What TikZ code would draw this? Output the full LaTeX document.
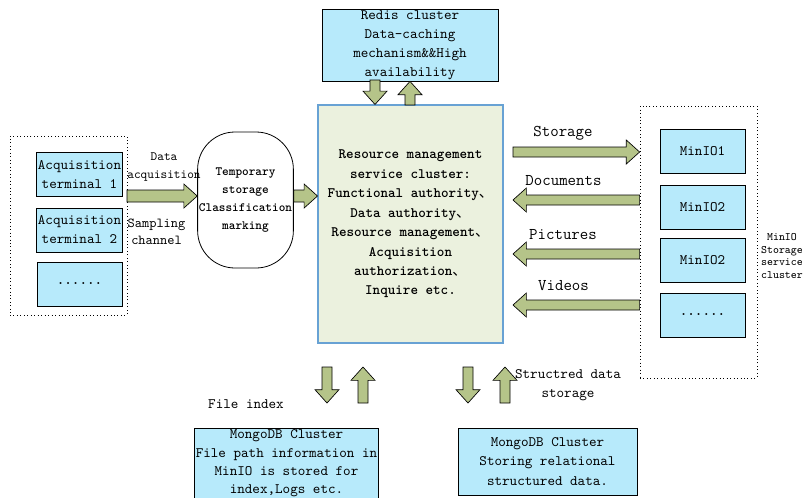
\documentclass[tikz,border=0pt]{standalone}
\usepackage{fontspec}
\usepackage{tikz}
\usetikzlibrary{calc}
\newfontfamily\cjkfont{Noto Sans CJK SC}
\newcommand{\dunhao}{{\cjkfont\mdseries 、}}
\definecolor{boxblue}{RGB}{183,234,251}
\definecolor{coregreen}{RGB}{235,241,222}
\definecolor{coreline}{RGB}{104,162,212}
\definecolor{arrowgreen}{RGB}{181,196,137}
\def\shafthalf{3.75pt}
\def\headhalf{9pt}
\def\headlen{10pt}
\tikzset{
  txt/.style={font=\ttfamily\fontsize{10.8}{14.3}\selectfont, align=center, inner sep=1pt},
  boldtxt/.style={txt, font=\ttfamily\bfseries\fontsize{10.8}{14.6}\selectfont},
  bigtxt/.style={txt, font=\ttfamily\fontsize{12.3}{15}\selectfont},
  smalltxt/.style={txt, font=\ttfamily\fontsize{9.5}{14}\selectfont},
  tinytxt/.style={txt, font=\ttfamily\fontsize{8.5}{9.5}\selectfont},
  bluebox/.style={txt, draw, fill=boxblue, line width=0.6pt, minimum width=63.75pt, minimum height=33pt},
  groupbox/.style={draw, dotted, line width=0.6pt},
  shaft/.code={\def\shafthalf{#1}},
  fatarrow/.style={draw=black, fill=arrowgreen, line width=0.5pt,
    to path={
      ($(\tikztostart)!\shafthalf!90:(\tikztotarget)$)
      -- ($($(\tikztotarget)!\headlen!(\tikztostart)$)!\shafthalf!90:(\tikztotarget)$)
      -- ($($(\tikztotarget)!\headlen!(\tikztostart)$)!\headhalf!90:(\tikztotarget)$)
      -- (\tikztotarget)
      -- ($($(\tikztotarget)!\headlen!(\tikztostart)$)!\headhalf!-90:(\tikztotarget)$)
      -- ($($(\tikztotarget)!\headlen!(\tikztostart)$)!\shafthalf!-90:(\tikztotarget)$)
      -- ($(\tikztostart)!\shafthalf!-90:(\tikztotarget)$) -- cycle}}
}
\begin{document}
\begin{tikzpicture}[x=0.75pt,y=-0.75pt,line join=miter]
%%
\useasboundingbox (0,0) rectangle (803,497);
\node (node_left) at (68.5,225.5) [groupbox, minimum width=87.75pt, minimum height=134.25pt] {};
  \node (node_acq1) at (79.5,174.5) [bluebox] {Acquisition\\terminal 1};
  \node (node_acq2) at (79.5,230) [bluebox] {Acquisition\\terminal 2};
  \node (node_acq3) at (79.5,284) [bluebox] {\textbf{......}};
  \node (node_temp) at (245.5,200) [boldtxt, font=\ttfamily\bfseries\fontsize{9.5}{13.5}\selectfont, draw, line width=0.6pt, rounded corners=28pt, minimum width=71.25pt, minimum height=102pt] {Temporary\\storage\\Classification\\marking};
  \node (node_core) at (410.5,224) [boldtxt, draw=coreline, fill=coregreen, line width=0.8pt, minimum width=138.75pt, minimum height=178.5pt] {Resource management\\service cluster:\\Functional authority\dunhao\\Data authority\dunhao\\Resource management\dunhao\\Acquisition\\authorization\dunhao\\Inquire etc.};
  \node (node_redis) at (410,45) [bluebox, minimum width=132pt, minimum height=52.5pt] {Redis cluster\\Data-caching\\mechanism\&\&High\\availability};
  \node (node_right) at (698.5,242) [groupbox, minimum width=87.75pt, minimum height=204pt] {};
  \node (node_minio1) at (702.5,151) [bluebox] {MinIO1};
  \node (node_minio2) at (702.5,207) [bluebox] {MinIO2};
  \node (node_minio3) at (702.5,260) [bluebox] {MinIO2};
  \node (node_minio4) at (702.5,315) [bluebox] {\textbf{......}};
  \node (node_miniolbl) at (782,256) [tinytxt] {MinIO\\Storage\\service\\cluster};
  \node (node_mongo1) at (286.5,463.5) [bluebox, font=\ttfamily\fontsize{10.8}{13.8}\selectfont, minimum width=132.75pt, minimum height=53.25pt] {MongoDB Cluster\\File path information in\\MinIO is stored for\\index,Logs etc.};
  \node (node_mongo2) at (547.5,461.5) [bluebox, minimum width=134.25pt, minimum height=50.25pt] {MongoDB Cluster\\Storing relational\\structured data.};
%
  \node (lbl_data) at (164,167) [smalltxt] {Data\\acquisition};
  \node (lbl_sampling) at (156.5,231.5) [txt, font=\ttfamily\fontsize{10.3}{12.5}\selectfont] {Sampling\\channel};
  \node (lbl_storage) at (563,133) [bigtxt] {Storage};
  \node (lbl_docs) at (563.5,181) [bigtxt] {Documents};
  \node (lbl_pics) at (563,235) [bigtxt] {Pictures};
  \node (lbl_videos) at (563.5,286) [bigtxt] {Videos};
  \node (lbl_index) at (246,404) [txt] {File index};
  \node (lbl_struct) at (568,385) [txt] {Structred data\\storage};
%
  \coordinate (p_in) at (127,196);
  \coordinate (p_rdn) at (375,80);
  \coordinate (p_rup) at (410,105);
  \coordinate (p_st) at (513,152);
  \coordinate (p_doc) at (513,200);
  \coordinate (p_pic) at (513,254);
  \coordinate (p_vid) at (513,305);
  \coordinate (p_fdn) at (327,367);
  \coordinate (p_fup) at (363,403);
  \coordinate (p_sdn) at (468,367);
  \coordinate (p_sup) at (505,403);
  \path [fatarrow, shaft=4.5pt] (p_in) to (p_in -| node_temp.west);
  \path [fatarrow, shaft=4.5pt] (p_in -| node_temp.east) to (p_in -| node_core.west);
  \path [fatarrow] (p_rdn) to (p_rdn |- node_core.north);
  \path [fatarrow] (p_rup) to (p_rup |- node_redis.south);
  \path [fatarrow] (p_st) to (p_st -| node_right.west);
  \path [fatarrow] (p_doc -| node_right.west) to (p_doc);
  \path [fatarrow] (p_pic -| node_right.west) to (p_pic);
  \path [fatarrow] (p_vid -| node_right.west) to (p_vid);
  \path [fatarrow] (p_fdn) to ($(p_fdn)+(0,36)$);
  \path [fatarrow] (p_fup) to ($(p_fup)+(0,-36)$);
  \path [fatarrow] (p_sdn) to ($(p_sdn)+(0,36)$);
  \path [fatarrow] (p_sup) to ($(p_sup)+(0,-36)$);
%
\end{tikzpicture}
\end{document}
